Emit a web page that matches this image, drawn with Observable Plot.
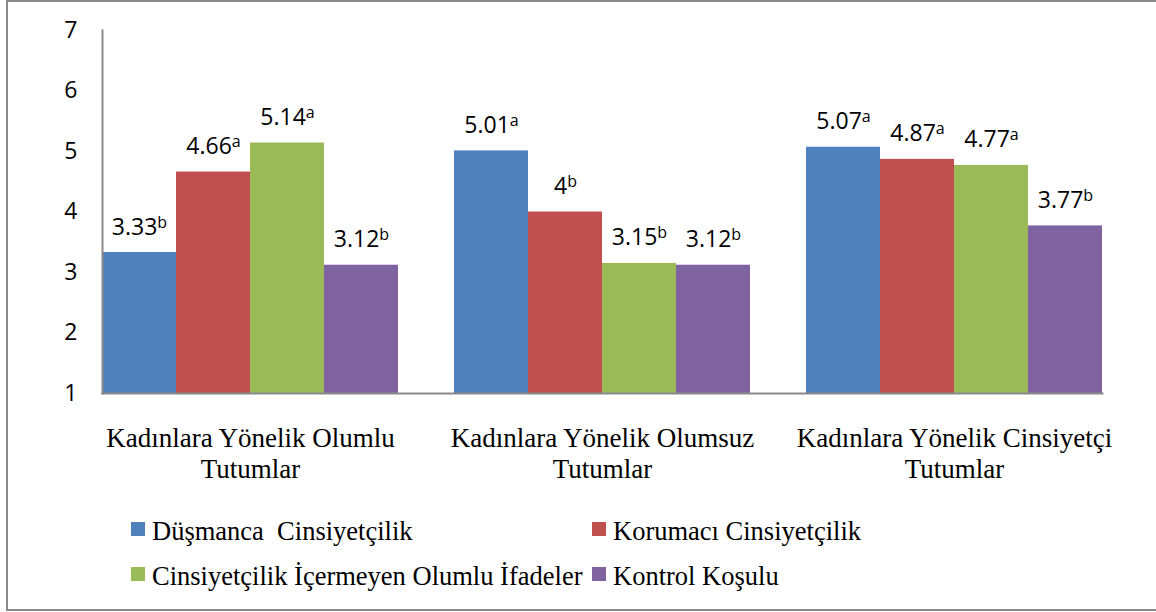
<!DOCTYPE html>
<html><head><meta charset="utf-8">
<script src="https://cdn.jsdelivr.net/npm/d3@7"></script>
<script src="https://cdn.jsdelivr.net/npm/@observablehq/plot@0.6"></script>
<style>
html,body{margin:0;padding:0;width:1156px;height:612px;overflow:hidden;background:#fff;}
#frame{position:absolute;left:6px;top:0;width:1200px;height:611px;box-sizing:border-box;border:2px solid #8a8a8a;}
#chart{position:absolute;left:0;top:0;}
.legend-item{position:absolute;font-family:"Liberation Serif","Times New Roman",serif;font-size:26.5px;line-height:26px;white-space:pre;color:#000;padding-left:21px;}
.legend-item .sw{position:absolute;left:0;top:4px;width:14px;height:14px;}
</style></head><body>
<div id="frame"></div><div id="chart"></div><div id="legend"></div>
<script>
const groups = ["Kadınlara Yönelik Olumlu Tutumlar", "Kadınlara Yönelik Olumsuz Tutumlar", "Kadınlara Yönelik Cinsiyetçi Tutumlar"];
const groupLabels = ["Kadınlara Yönelik Olumlu\nTutumlar", "Kadınlara Yönelik Olumsuz\nTutumlar", "Kadınlara Yönelik Cinsiyetçi\nTutumlar"];
const series = ["Düşmanca  Cinsiyetçilik", "Korumacı Cinsiyetçilik", "Cinsiyetçilik İçermeyen Olumlu İfadeler", "Kontrol Koşulu"];
const colors = ["#4F81BD", "#C0504D", "#9BBB59", "#8064A2"];
const dusmanca = [3.33, 5.01, 5.07];
const korumaci = [4.66, 4, 4.87];
const olumluIfadeler = [5.14, 3.15, 4.77];
const kontrol = [3.12, 3.12, 3.77];
const dusmancaSig = ["b", "a", "a"];
const korumaciSig = ["a", "b", "a"];
const olumluIfadelerSig = ["a", "b", "a"];
const kontrolSig = ["b", "b", "b"];
const yTicks = [1, 2, 3, 4, 5, 6, 7];

const valuesBySeries = [dusmanca, korumaci, olumluIfadeler, kontrol];
const sigBySeries = [dusmancaSig, korumaciSig, olumluIfadelerSig, kontrolSig];
const data = [];
groups.forEach((g, gi) => series.forEach((s, si) => {
  data.push({group: g, series: s, value: valuesBySeries[si][gi], sig: sigBySeries[si][gi]});
}));

const sans = "'Open Sans', 'Liberation Sans', sans-serif";
const serif = "'Liberation Serif', 'Times New Roman', serif";

const chart = Plot.plot({
  width: 1156, height: 490,
  marginLeft: 73, marginRight: 26, marginTop: 30, marginBottom: 97,
  style: {background: "transparent", fontFamily: sans, color: "#000"},
  y: {domain: [1, 7], axis: null},
  x: {domain: series, padding: 0, axis: null},
  fx: {domain: groups, paddingInner: 0.16, paddingOuter: 0.08, axis: null},
  color: {domain: series, range: colors},
  marks: [
    Plot.barY(data, {fx: "group", x: "series", y1: 1, y2: "value", fill: "series"}),
    Plot.text(data, {fx: "group", x: "series", y: "value", text: d => String(d.value) + "|" + d.sig,
      dy: -18, lineAnchor: "bottom", fontSize: 23, fontFamily: sans, fill: "#000"}),
    Plot.axisY({ticks: yTicks, tickFormat: d => String(d), label: null, tickSize: 0, tickPadding: 25,
      fontSize: 23, fontFamily: sans, fill: "#000"}),
    Plot.axisFx({anchor: "bottom", tickSize: 0, tickPadding: 31, fontSize: 27, fontFamily: serif, lineHeight: 1.15,
      fill: "#000", tickFormat: g => groupLabels[groups.indexOf(g)], label: null}),
    Plot.frame({anchor: "bottom", facet: "super", stroke: "#898989", strokeWidth: 2}),
    Plot.frame({anchor: "left", facet: "super", stroke: "#898989", strokeWidth: 2})
  ]
});

chart.querySelectorAll("text").forEach(t => {
  if (t.textContent.includes("|")) {
    const [num, sup] = t.textContent.split("|");
    t.textContent = num;
    const ts = document.createElementNS("http://www.w3.org/2000/svg", "tspan");
    ts.setAttribute("dy", "-7");
    ts.setAttribute("font-size", "16");
    ts.textContent = sup;
    t.appendChild(ts);
  }
});
document.getElementById("chart").appendChild(chart);

const legendPos = [[131, 518], [592, 518], [131, 563], [592, 563]];
const legend = document.getElementById("legend");
series.forEach((s, i) => {
  const item = document.createElement("div");
  item.className = "legend-item";
  item.style.left = legendPos[i][0] + "px";
  item.style.top = legendPos[i][1] + "px";
  const sw = document.createElement("span");
  sw.className = "sw";
  sw.style.background = colors[i];
  item.appendChild(sw);
  item.appendChild(document.createTextNode(s));
  legend.appendChild(item);
});
</script>
</body></html>
